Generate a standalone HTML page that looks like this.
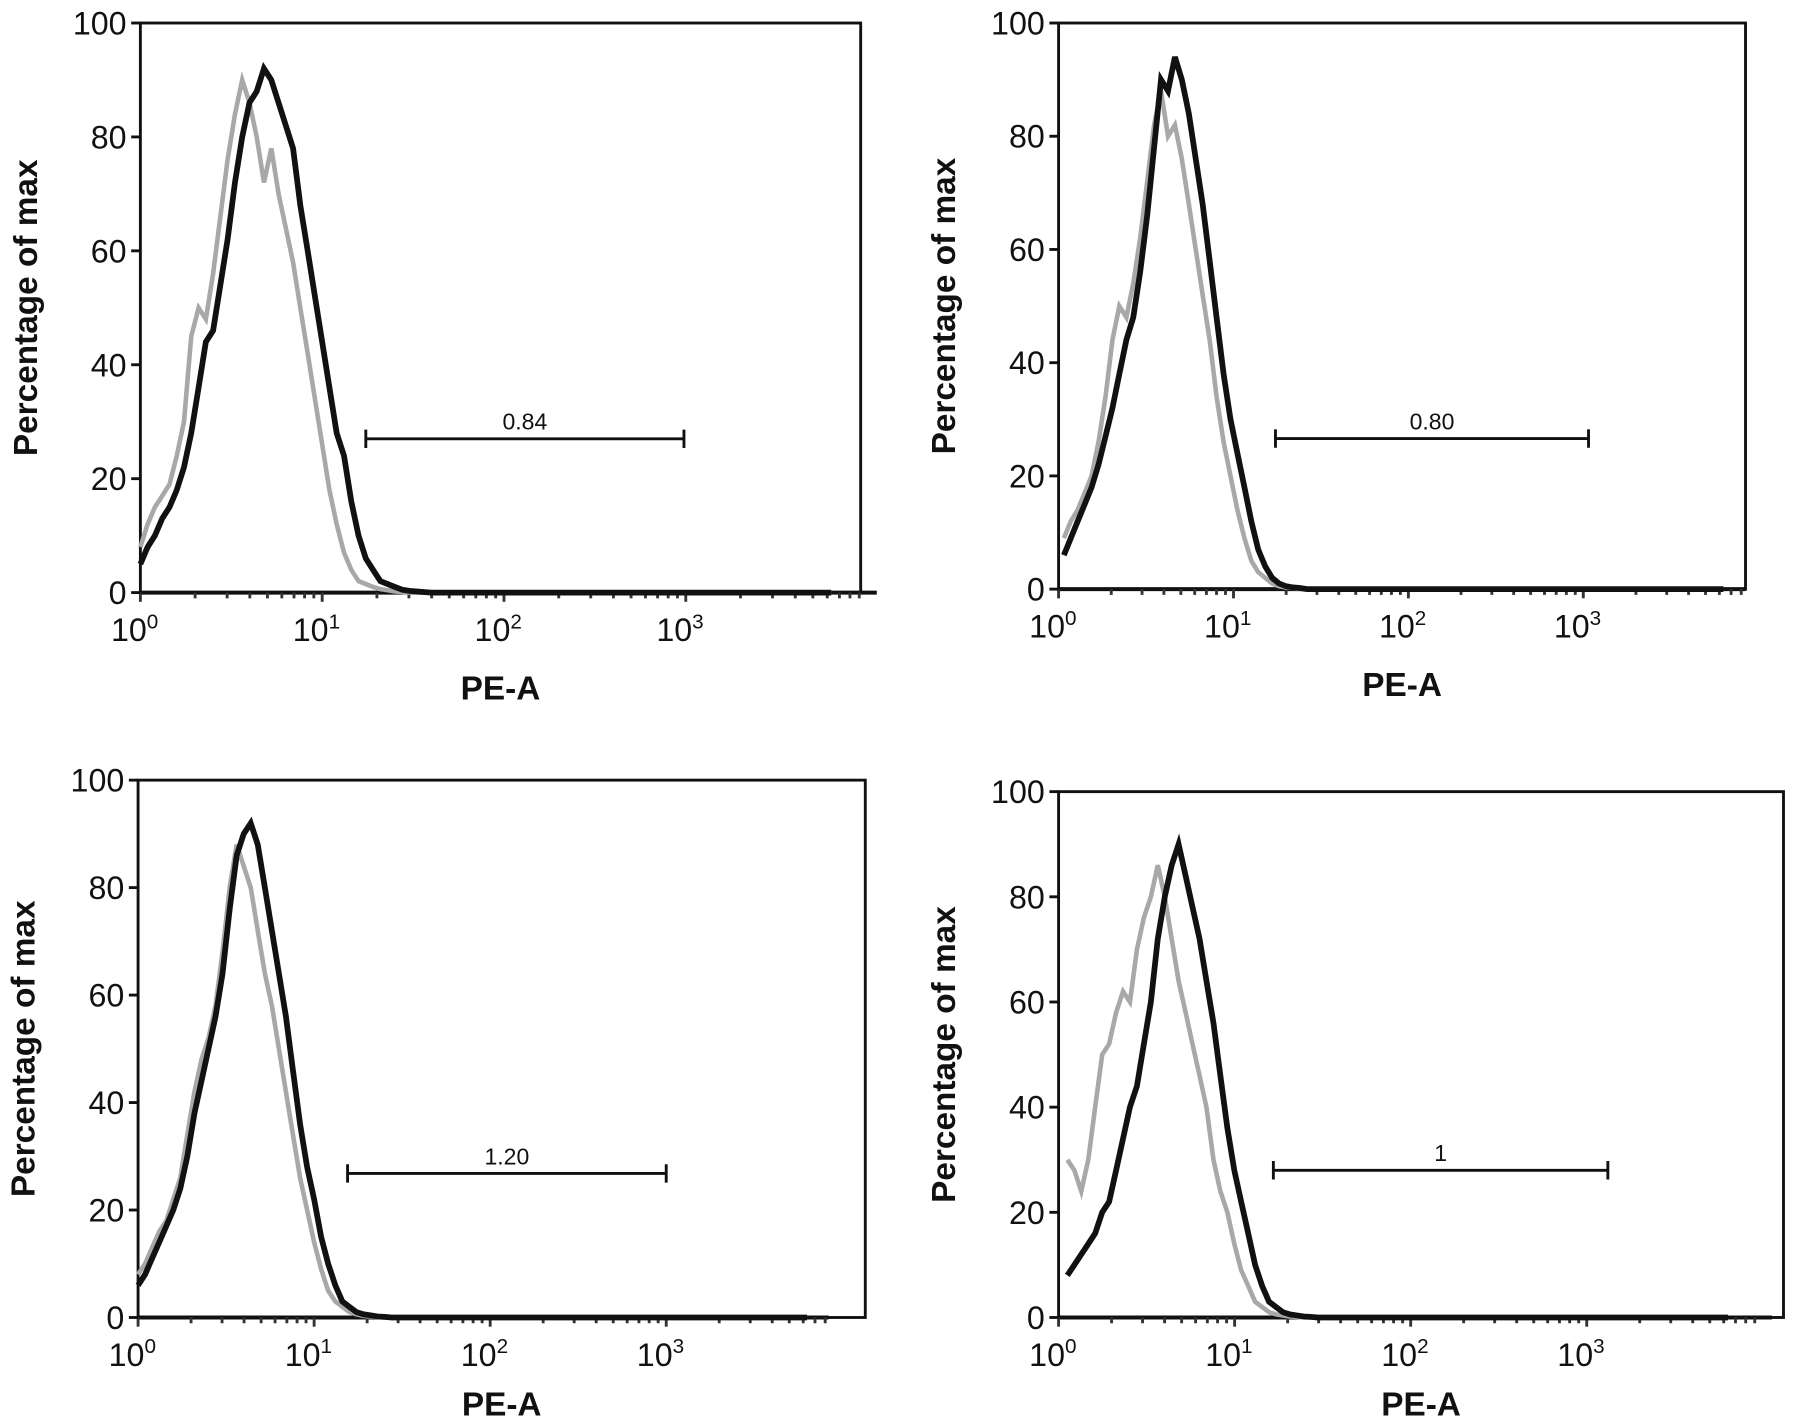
<!DOCTYPE html>
<html><head><meta charset="utf-8"><style>
html,body{margin:0;padding:0;background:#fff}
svg{display:block}
text{font-family:"Liberation Sans",Arial,sans-serif;fill:#111}
</style></head><body>
<svg id="chart" width="1795" height="1426" viewBox="0 0 1560 1239.3" xmlns="http://www.w3.org/2000/svg"></svg>
<script>
// shared log10 positions of histogram bins
const logX=[0,0.04,0.08,0.12,0.16,0.2,0.24,0.28,0.32,0.36,0.4,0.44,0.48,0.52,0.56,0.6,0.64,0.68,0.72,0.76,0.8,0.84,0.88,0.92,0.96,1.0,1.04,1.08,1.12,1.16,1.2,1.24,1.28,1.32,1.36,1.4,1.44,1.48,1.6,2.0,3.0,3.8];
const p1Black=[5,8,10,13,15,18,22,28,36,44,46,54,62,72,80,86,88,92,90,86,82,78,68,60,52,44,36,28,24,16,10,6,4,2,1.5,1,0.5,0.3,0,0,0,0];
const p1Gray=[8,12,15,17,19,24,30,45,50,48,56,66,76,84,90,86,80,72,78,70,64,58,50,42,34,26,18,12,7,4,2,1.5,1,0.6,0.4,0.2,0.1,0,0,0,0,0];
const p2Black=[6,9,12,15,18,22,27,32,38,44,48,56,66,78,90,88,94,90,84,76,68,58,48,38,30,24,18,12,7,4,2,1,0.5,0.3,0.2,0,0,0,0,0,0,0];
const p2Gray=[9,12,14,17,20,26,34,44,50,48,54,62,72,82,88,80,82,76,68,60,52,44,34,26,20,14,9,5,3,2,1,0.5,0.3,0.2,0,0,0,0,0,0,0,0];
const p3Black=[6,8,11,14,17,20,24,30,38,44,50,56,64,76,86,90,92,88,80,72,64,56,46,36,28,22,15,10,6,3,2,1,0.6,0.4,0.2,0.1,0,0,0,0,0,0];
const p3Gray=[8,10,13,16,18,22,26,34,42,48,52,58,68,80,88,84,80,72,64,58,50,42,34,26,20,14,9,5,3,2,1,0.6,0.3,0.2,0.1,0,0,0,0,0,0,0];
const p4Black=[8,10,12,14,16,20,22,28,34,40,44,52,60,72,80,86,90,84,78,72,64,56,46,36,28,22,16,10,6,3,2,1,0.6,0.4,0.2,0.1,0,0,0,0,0,0];
const p4Gray=[30,28,24,30,40,50,52,58,62,60,70,76,80,86,80,72,64,58,52,46,40,30,24,20,14,9,6,3,2,1,0.6,0.4,0.2,0.1,0,0,0,0,0,0,0,0];
const yTicks=[0,20,40,60,80,100];
const xTickExp=[0,1,2,3];
const gateStart=[1.24,1.24,1.19,1.22];
const gateEnd=[2.99,3.03,3.0,3.12];
const gateY=[27,26.6,26.8,28];
const gateLabels=["0.84","0.80","1.20","1"];

const panels=[
 {l:122,t:20,r:748,b:515,dec:158,axEnd:762,black:p1Black,gray:p1Gray,xl0:0},
 {l:920,t:20,r:1517,b:512,dec:152,axEnd:1517,black:p2Black,gray:p2Gray,xl0:0.03},
 {l:120,t:678,r:752,b:1145,dec:153,axEnd:720,black:p3Black,gray:p3Gray,xl0:0},
 {l:920,t:688,r:1550,b:1145,dec:153,axEnd:1540,black:p4Black,gray:p4Gray,xl0:0.05}
];
const NS="http://www.w3.org/2000/svg";
const svg=document.getElementById('chart');
function mk(tag,attrs,parent){const e=document.createElementNS(NS,tag);for(const k in attrs)e.setAttribute(k,attrs[k]);(parent||svg).appendChild(e);return e;}

panels.forEach((p,i)=>{
 const g=mk('g',{});
 
 
 const X=v=>p.l+v*p.dec;
 const Y=v=>p.b-(v/100)*(p.b-p.t);
 const box=mk('rect',{x:p.l,y:p.t,width:p.r-p.l,height:p.b-p.t,fill:'none',stroke:'#111','stroke-width':2.5},g);
 
 
 const ax=mk('line',{x1:p.l,y1:p.b,x2:p.axEnd,y2:p.b,stroke:'#111','stroke-width':3.5},g);
 
 
 for(let d=0;d<4;d++){for(let m=1;m<10;m++){const lx=d+Math.log10(m);const x=X(lx);if(x>p.axEnd)continue;
  const tk=mk('line',{x1:x,y1:p.b,x2:x,y2:p.b+(m===1?8:5),stroke:'#333','stroke-width':2.5},g);
  
  }}
 xTickExp.forEach(e=>{
  const t=mk('text',{x:X(e)-5,y:p.b+42,'font-size':28,'text-anchor':'middle'},g);
  
  
  t.textContent='10';
  const s=mk('tspan',{dy:-11,'font-size':18},t);s.textContent=String(e);
 });
 yTicks.forEach(v=>{
  const y=Y(v);
  const tk=mk('line',{x1:p.l-8,y1:y,x2:p.l,y2:y,stroke:'#111','stroke-width':2.5},g);
  
  
  const t=mk('text',{x:p.l-12,y:y+10,'font-size':28,'text-anchor':'end'},g);
  
  
  t.textContent=String(v);
 });
 const yt=mk('text',{x:0,y:0,'font-size':29,'font-weight':'bold','text-anchor':'middle',transform:`translate(${p.l-90},${(p.t+p.b)/2}) rotate(-90)`},g);
 
 
 yt.textContent='Percentage of max';
 const xt=mk('text',{x:(p.l+p.r)/2,y:p.b+(i<2?93:85),'font-size':29,'font-weight':'bold','text-anchor':'middle'},g);
 
 
 xt.textContent='PE-A';
 function line(arr,color,w,name){
  let d='';
  arr.forEach((v,k)=>{const lx=p.xl0+logX[k]*(1-p.xl0/4);const x=X(lx),y=Y(v);d+=(k?'L':'M')+x.toFixed(1)+','+y.toFixed(1);});
  const pa=mk('path',{d:d,fill:'none',stroke:color,'stroke-width':w,'stroke-linejoin':'miter'},g);
  
  
 }
 line(p.gray,'#a8a8a8',4,'control-histogram');
 line(p.black,'#111',5,'sample-histogram');
 const gy=Y(gateY[i]),gx1=X(gateStart[i]),gx2=X(gateEnd[i]);
 const gl=mk('path',{d:`M${gx1},${gy}H${gx2}M${gx1},${gy-8}V${gy+8}M${gx2},${gy-8}V${gy+8}`,stroke:'#111','stroke-width':2.5,fill:'none'},g);
 
 
 const gt=mk('text',{x:(gx1+gx2)/2,y:gy-8,'font-size':20,'text-anchor':'middle'},g);
 
 
 gt.textContent=gateLabels[i];
});
</script>
</body></html>
